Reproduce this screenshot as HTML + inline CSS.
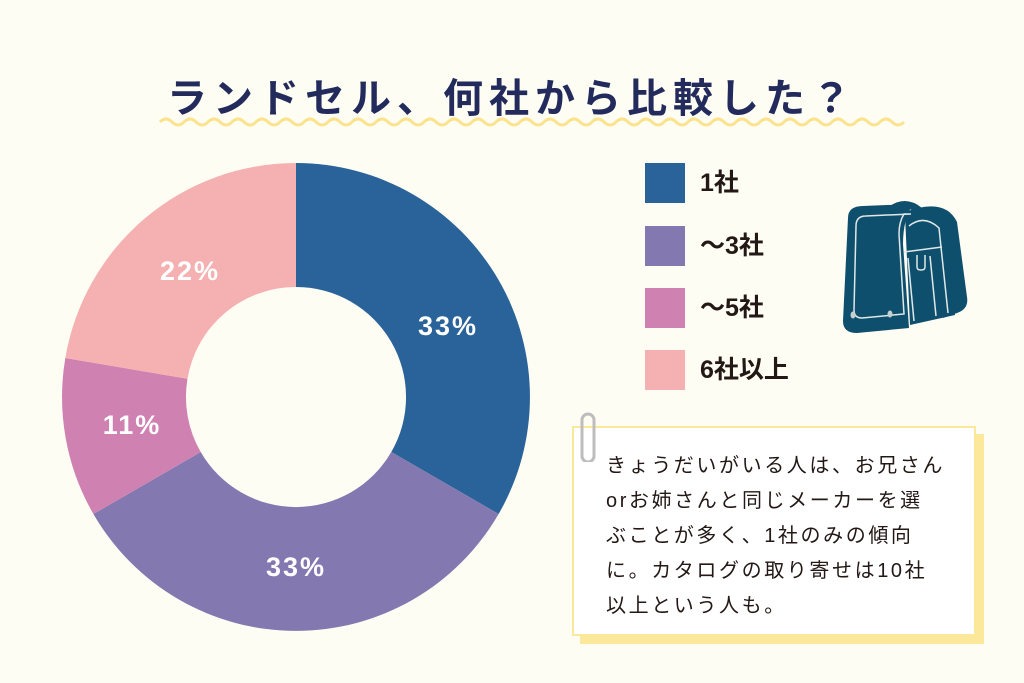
<!DOCTYPE html>
<html><head><meta charset="utf-8"><style>
body{margin:0;background:#fefdf3;}
.w{position:relative;width:1024px;height:683px;overflow:hidden;background:#fefdf3;font-family:"Liberation Sans","Noto Sans CJK JP",sans-serif;}
.t{position:absolute;left:0;width:1024px;top:66px;text-align:center;font-size:40px;font-weight:bold;color:#232a5c;letter-spacing:6px;}
.lg{position:absolute;left:645px;width:40px;height:40px;}
.ll{position:absolute;left:700px;font-size:25px;font-weight:bold;color:#231815;line-height:40px;}
.note{position:absolute;left:572px;top:426px;width:400px;height:206px;background:#fff;border:2px solid #fbe89a;box-shadow:8px 8px 0 #fbe89a;}
.nt{position:absolute;left:606px;top:449px;font-size:20px;line-height:35px;color:#231815;letter-spacing:2.6px;white-space:nowrap;}
</style></head><body><div class="w">
<div class="t">ランドセル、何社から比較した？</div>
<svg width="1024" height="683" style="position:absolute;left:0;top:0">
<path d="M160 122 q6 -6 12 0 t12 0 t12 0 t12 0 t12 0 t12 0 t12 0 t12 0 t12 0 t12 0 t12 0 t12 0 t12 0 t12 0 t12 0 t12 0 t12 0 t12 0 t12 0 t12 0 t12 0 t12 0 t12 0 t12 0 t12 0 t12 0 t12 0 t12 0 t12 0 t12 0 t12 0 t12 0 t12 0 t12 0 t12 0 t12 0 t12 0 t12 0 t12 0 t12 0 t12 0 t12 0 t12 0 t12 0 t12 0 t12 0 t12 0 t12 0 t12 0 t12 0 t12 0 t12 0 t12 0 t12 0 t12 0 t12 0 t12 0 t12 0 t12 0 t12 0 t12 0 t12 0" fill="none" stroke="#fbe38e" stroke-width="3"/>
<path d="M296 163 A234 234 0 0 1 498.6 514 L391.3 452 A110 110 0 0 0 296 287Z" fill="#2a6399"/>
<path d="M498.6 514 A234 234 0 0 1 93.4 514 L200.7 452 A110 110 0 0 0 391.3 452Z" fill="#8478b0"/>
<path d="M93.4 514 A234 234 0 0 1 65.3 358 L187.5 378.7 A110 110 0 0 0 200.7 452Z" fill="#cf82b2"/>
<path d="M65.3 358 A234 234 0 0 1 296 163 L296 287 A110 110 0 0 0 187.5 378.7Z" fill="#f5b1b1"/>
<g fill="#fff" font-size="27" font-weight="bold" text-anchor="middle" font-family="Liberation Sans, sans-serif" letter-spacing="2">
<text x="448" y="335">33%</text><text x="296" y="576">33%</text><text x="132" y="434">11%</text><text x="190" y="280">22%</text></g>
<g fill="#0f4f6e">
<path d="M887 208 q18 -14 35 0 l-5 5 q-12 -9 -25 0z"/>
<path d="M905 212 q40 -15 52 10 l10 75 q2 12 -10 16 l-14 5 l-4 -10 l10 -4 l-8 -70 q-8 -15 -30 -10z"/>
<path d="M848 218 q0 -12 15 -12 l50 -2 q-10 15 -10 40 l6 84 l-52 5 q-14 0 -14 -12z"/>
<path d="M905 215 q25 -8 40 10 l10 90 l-45 10z"/>
</g>
<g fill="none" stroke="#dfe8e6" stroke-width="1.5">
<path d="M856 226 q0 -10 10 -10 l45 -2 l-7 0 q-5 8 -5 20 l5 80 l-42 4 q-8 0 -8 -8z"/>
<path d="M909 226 q15 -12 30 2 l9 85"/>
<path d="M904 252 l38 -5 M908 258 l6 63 M930 256 l6 60"/>
<path d="M917 255 v12 q0 3 4 3 q4 0 4 -3 v-12"/>
</g>
<g fill="#c6cfd0"><ellipse cx="853" cy="315" rx="2.5" ry="3.5"/><ellipse cx="890" cy="314" rx="2.5" ry="3.5"/></g>
</svg>
<div class="lg" style="top:163px;background:#2a6399"></div><div class="ll" style="top:163px">1社</div>
<div class="lg" style="top:226px;background:#8478b0"></div><div class="ll" style="top:226px">～3社</div>
<div class="lg" style="top:288px;background:#cf82b2"></div><div class="ll" style="top:288px">～5社</div>
<div class="lg" style="top:350px;background:#f5b1b1"></div><div class="ll" style="top:350px">6社以上</div>
<div class="note"></div>
<svg width="20" height="52" style="position:absolute;left:578px;top:410px"><path d="M4 46 V10 a6 6 0 0 1 12 0 V46 a6 6 0 0 1 -12 0" fill="none" stroke="#bdbdbd" stroke-width="3"/></svg>
<div class="nt">きょうだいがいる人は、お兄さん<br>orお姉さんと同じメーカーを選<br>ぶことが多く、1社のみの傾向<br>に。カタログの取り寄せは10社<br>以上という人も。</div>
</div></body></html>
